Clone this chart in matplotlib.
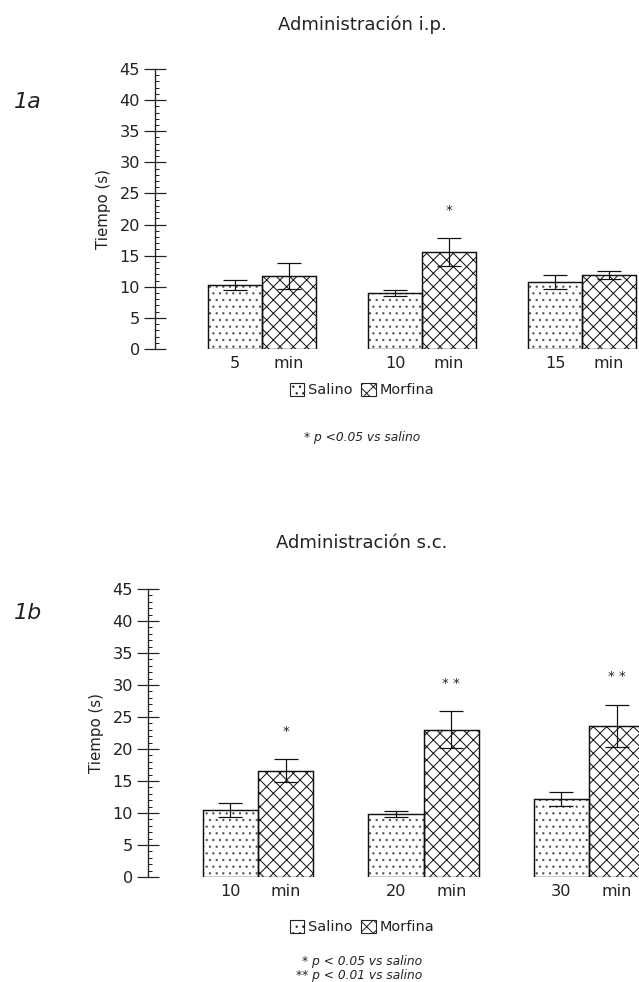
import matplotlib as mpl
mpl.use("Agg")
import matplotlib.pyplot as plt
import numpy as np
from matplotlib.patches import Patch
from matplotlib.ticker import MultipleLocator

mpl.rcParams.update({
    "font.family": "DejaVu Sans",
    "text.color": "#222222",
    "axes.labelcolor": "#222222",
    "ytick.color": "#222222",
    "xtick.color": "#222222",
    "hatch.linewidth": 0.9,
})

# data (seconds, mean +/- error)
ip_times = ["5", "10", "15"]
ip_salino = [10.3, 9.0, 10.8]
ip_salino_err = [0.8, 0.5, 1.1]
ip_morfina = [11.8, 15.6, 11.9]
ip_morfina_err = [2.1, 2.2, 0.6]
ip_sig = ["", "*", ""]

sc_times = ["10", "20", "30"]
sc_salino = [10.5, 9.8, 12.2]
sc_salino_err = [1.1, 0.5, 1.1]
sc_morfina = [16.6, 23.0, 23.6]
sc_morfina_err = [1.8, 2.9, 3.3]
sc_sig = ["*", "* *", "* *"]

DPI = 80
W, H = 639, 982
fig = plt.figure(figsize=(W / DPI, H / DPI), dpi=DPI)


def px_rect(left, top, right, bottom):
    return [left / W, 1 - bottom / H, (right - left) / W, (bottom - top) / H]


def draw_panel(ax, times, sal, sal_err, mor, mor_err, sig, width, xlim):
    g = np.arange(len(times))
    xs = g - width / 2
    xm = g + width / 2
    # hatch fill first (grey dots / black cross-hatch), outline on top
    ax.bar(xs, sal, width, color="white", edgecolor="#555555", hatch="..", linewidth=0)
    ax.bar(xm, mor, width, color="white", edgecolor="#111111", hatch="xx", linewidth=0)
    ax.bar(xs, sal, width, fill=False, edgecolor="#111111", linewidth=1.3)
    ax.bar(xm, mor, width, fill=False, edgecolor="#111111", linewidth=1.3)
    ax.errorbar(xs, sal, yerr=sal_err, fmt="none", ecolor="#111111", elinewidth=1.1,
                capsize=11, capthick=1.1)
    ax.errorbar(xm, mor, yerr=mor_err, fmt="none", ecolor="#111111", elinewidth=1.1,
                capsize=11, capthick=1.1)
    for x, m, e, s in zip(xm, mor, mor_err, sig):
        if s:
            ax.text(x, m + e + 4.4, s, ha="center", va="center", fontsize=12)

    ax.set_xlim(*xlim)
    ax.set_ylim(0, 45)
    for side in ("top", "right", "bottom"):
        ax.spines[side].set_visible(False)
    ax.spines["left"].set_linewidth(1.2)
    ax.spines["left"].set_color("#222222")
    ax.yaxis.set_major_locator(MultipleLocator(5))
    ax.yaxis.set_minor_locator(MultipleLocator(1))
    ax.tick_params(axis="y", which="major", direction="inout", length=19, width=1.1,
                   labelsize=14.5, pad=4)
    ax.tick_params(axis="y", which="minor", direction="in", length=4, width=0.9)
    ticks = np.concatenate([xs, xm])
    labels = list(times) + ["min"] * len(times)
    order = np.argsort(ticks)
    ax.set_xticks(ticks[order])
    ax.set_xticklabels([labels[i] for i in order])
    ax.tick_params(axis="x", length=0, labelsize=14.5, pad=6)
    ax.set_ylabel("Tiempo (s)", fontsize=13.5, labelpad=8)


ax1 = fig.add_axes(px_rect(155, 69, 639, 349))
draw_panel(ax1, ip_times, ip_salino, ip_salino_err, ip_morfina, ip_morfina_err,
           ip_sig, 0.3375, (-0.669, 2.356))

ax2 = fig.add_axes(px_rect(148, 589, 639, 877))
draw_panel(ax2, sc_times, sc_salino, sc_salino_err, sc_morfina, sc_morfina_err,
           sc_sig, 0.335, (-0.665, 2.302))

cx = 362 / W
fig.text(cx, 1 - 25 / H, "Administración i.p.", ha="center", va="center", fontsize=16.2)
fig.text(cx, 1 - 543 / H, "Administración s.c.", ha="center", va="center", fontsize=16.2)
fig.text(14 / W, 1 - 102 / H, "1a", ha="left", va="center", fontsize=20, style="italic")
fig.text(14 / W, 1 - 613 / H, "1b", ha="left", va="center", fontsize=20, style="italic")

handles = [
    Patch(facecolor="white", edgecolor="#222222", hatch="..", linewidth=1.0),
    Patch(facecolor="white", edgecolor="#222222", hatch="xx", linewidth=1.0),
]
for ycen in (390, 927):
    fig.legend(handles, ["Salino", "Morfina"], loc="center",
               bbox_to_anchor=(cx, 1 - ycen / H), ncol=2, frameon=False,
               fontsize=13, handlelength=1.0, handleheight=1.0,
               handletextpad=0.25, columnspacing=0.6, borderpad=0)

note_font = ["Liberation Sans Narrow", "DejaVu Sans"]
fig.text(cx, 1 - 437 / H, "* p <0.05 vs salino", ha="center", va="center",
         fontsize=11, style="italic", family=note_font)
fig.text(cx, 1 - 961 / H, "* p < 0.05 vs salino", ha="center", va="center",
         fontsize=11, style="italic", family=note_font)
fig.text(cx - 3 / W, 1 - 976 / H, "** p < 0.01 vs salino", ha="center", va="center",
         fontsize=11, style="italic", family=note_font)

fig.savefig("out.png", dpi=DPI)
